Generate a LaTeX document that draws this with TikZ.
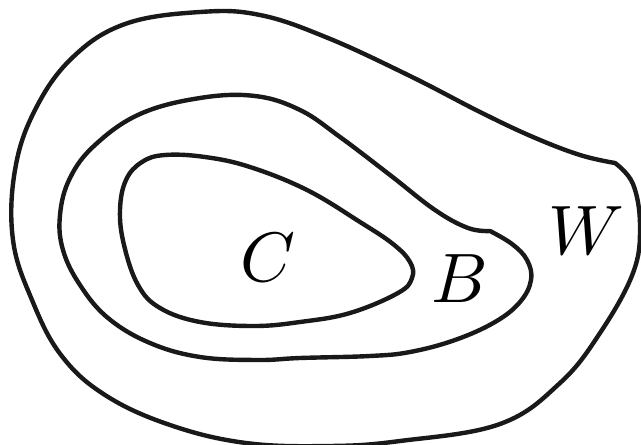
\documentclass[tikz,border=0pt]{standalone}
\usepackage{amsmath,amssymb}
\usepackage{graphicx}
\usepackage{tikz}
\usetikzlibrary{positioning, calc}
\tikzstyle{contour} = [line width=4.4pt, line join=round, line cap=round, draw=black!90]
\tikzstyle{region} = [inner sep=0pt]
\newcommand{\setname}[1]{\scalebox{7}{$#1$}}

\begin{document}
\begin{tikzpicture}[x=1pt, y=-1pt]
    \useasboundingbox (0,0) rectangle (641,445);
    % outer set W (corner on the right)
    \draw [contour] plot[smooth, tension=0.65] coordinates {
        (615,163) (633,184) (640,226) (633,273) (600,333) (560,383) (500,424)
        (400,441) (330,446) (246,443) (170,425) (105,395) (61,355) (32,300)
        (13,240) (15,170) (35,110) (72,58) (125,24) (200,12) (260,15)
        (328,38) (410,76) (480,112) (533,137) (580,155) (615,163)};
    % middle set B (notch at the top right)
    \draw [contour] plot[smooth, tension=0.65] coordinates {
        (490,231) (512,244) (527,260) (531,280) (520,302) (495,322) (455,340)
        (410,352) (370,356) (300,358) (258,360) (200,357) (150,343) (108,318)
        (80,285) (63,250) (60,215) (70,178) (95,145) (140,114) (200,98)
        (255,96) (300,110) (340,137) (390,175) (435,210) (468,228)
        (490,231)};
    % inner set C
    \draw [contour] plot[smooth cycle, tension=0.65] coordinates {
        (165,155) (205,157) (250,167) (307,190) (360,222) (393,244) (410,262)
        (412,278) (398,293) (350,313) (300,322) (254,326) (200,322) (160,308)
        (138,285) (124,245) (120,210) (126,180) (142,162)};
    \node (labelC) [region] at (268,258) {\setname{C}};
    \node (labelB) [region] at (460,279) {\setname{B}};
    \node (labelW) [region] at (586,231) {\setname{W}};
\end{tikzpicture}
\end{document}
